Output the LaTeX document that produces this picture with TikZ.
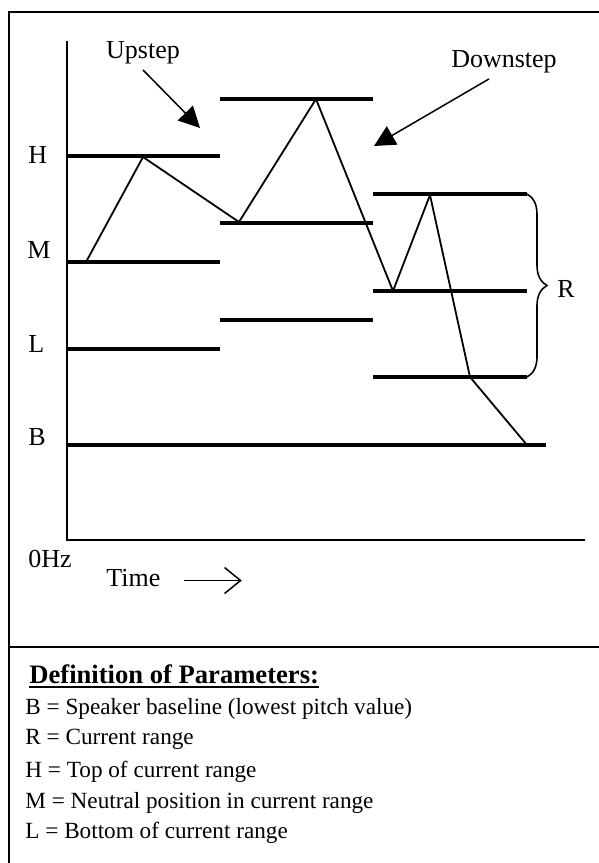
\documentclass[tikz,border=0pt]{standalone}
\usepackage{fontspec}
\setmainfont{Liberation Serif}
\usetikzlibrary{arrows.meta,decorations.pathreplacing}

\begin{document}
\begin{tikzpicture}[x=0.5pt, y=-0.5pt,
  nivel/.style={line width=2pt},
  contorno/.style={line width=0.9pt, line join=miter},
  eje/.style={line width=1pt},
  etiqueta/.style={font=\fontsize{13}{15}\selectfont, inner sep=0pt,
    anchor=base west},
  flecha/.style={-{Triangle[length=10.5pt,width=10.5pt]}, line width=0.75pt},
  defin/.style={font=\fontsize{11.6}{13}\selectfont, inner sep=0pt,
    anchor=base west},
]
  \useasboundingbox (0,0) rectangle (599,863);
  % Marco
  \draw[eje] (9,863) |- (599,12);
  \draw[eje] (9,647) -- (599,647);
  % Ejes
  \coordinate (ytop) at (67,41);
  \coordinate (xend) at (585,540);
  \draw[eje] (ytop) |- (xend);
  % Niveles
  \draw[nivel] (67,156) -- (220,156);
  \draw[nivel] (67,262) -- (220,262);
  \draw[nivel] (67,349) -- (220,349);
  \draw[nivel] (220,99) -- (373,99);
  \draw[nivel] (220,223) -- (373,223);
  \draw[nivel] (220,320) -- (373,320);
  \draw[nivel] (373,194) -- (527,194);
  \draw[nivel] (373,291) -- (527,291);
  \draw[nivel] (373,377) -- (527,377);
  \draw[nivel] (67,445) -- (546,445);
  % Contorno
  \coordinate (p1) at (86,262);
  \coordinate (p2) at (143,157);
  \coordinate (p3) at (239,222);
  \coordinate (p4) at (316,99);
  \coordinate (p5) at (393,291);
  \coordinate (p6) at (430,195);
  \coordinate (p7) at (470,377);
  \coordinate (p8) at (527,445);
  \draw[contorno] (p1) -- (p2) -- (p3) -- (p4) -- (p5) -- (p6) -- (p7) -- (p8);
  % Llave
  \draw[line width=0.8pt, decorate, decoration={brace, amplitude=10pt}]
    (527,194) -- (527,377);
  \node[etiqueta] (r) at (557,297) {R};
  % Etiquetas
  \node[etiqueta] (h) at (28,163) {H};
  \node[etiqueta] (m) at (27,258) {M};
  \node[etiqueta] (l) at (28,352) {L};
  \node[etiqueta] (b) at (28,445) {B};
  \node[etiqueta] (hz) at (28,567) {0Hz};
  \node[etiqueta] (time) at (106,586) {Time};
  \draw[-{Straight Barb[length=8pt,width=13pt]}, line width=0.75pt]
    ([xshift=11.5pt,yshift=-1.5pt]time.east) -- ([xshift=40.5pt,yshift=-1.5pt]time.east);
  % Pasos
  \node[etiqueta, anchor=base] (up) at (143,58) {Upstep};
  \node[etiqueta, anchor=base] (down) at (504,67) {Downstep};
  \coordinate (upend) at (200,128);
  \coordinate (downend) at (374,146);
  \draw[flecha] ([yshift=-3pt]up.south) -- (upend);
  \draw[flecha] ([xshift=-7.5pt,yshift=-3pt]down.south) -- (downend);
  % Definiciones
  \node[etiqueta, font=\fontsize{13.3}{15}\selectfont\bfseries] (head) at (29,683)
    {Definition of Parameters:};
  \draw[line width=1pt] ([yshift=-2pt]head.base west) -- ([yshift=-2pt]head.base east);
  \node[defin] (def1) at (25,714) {B = Speaker baseline (lowest pitch value)};
  \node[defin] (def2) at (25,744) {R = Current range};
  \node[defin] (def3) at (25,777) {H = Top of current range};
  \node[defin] (def4) at (25,808) {M = Neutral position in current range};
  \node[defin] (def5) at (25,838) {L = Bottom of current range};
\end{tikzpicture}
\end{document}
